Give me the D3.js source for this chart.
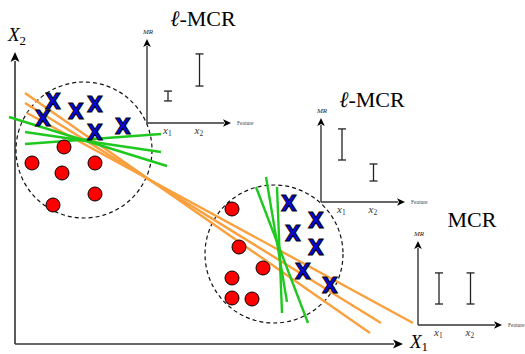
<!DOCTYPE html>
<html>
<head>
<meta charset="utf-8">
<script src="https://cdn.jsdelivr.net/npm/d3@7"></script>
<style>
  html, body { margin: 0; padding: 0; background: #fff; }
  svg { display: block; }
</style>
</head>
<body>
<svg id="chart" width="525" height="354"></svg>
<script>
// Feature space: two clusters, each with red circles (class 0) and blue crosses (class 1)
const redPoints = [
  [49, 197], [17, 181], [47, 171], [80, 181], [80, 150], [38, 139],
  [217, 135], [224, 97], [248, 76], [217, 66], [217, 46], [237, 45]
];
const bluePoints = [
  [38, 243], [28, 226], [61, 233], [80, 240], [80, 212], [108, 218],
  [274, 141], [301, 124], [278, 111], [301, 97], [288, 73], [315, 59]
];
// Neighbourhoods around each cluster: [cx, cy, r]
const neighbourhoods = [[69, 194, 68], [259, 90, 69]];
// Global good-enough models (orange) and local models (green): [x0, y0, x1, y1]
const globalModels = [
  [10, 251, 355, 11],
  [10, 241, 366, 21],
  [12, 231, 398, 21]
];
const localModels = [
  [-6, 227, 152, 178],
  [10, 212, 146, 192],
  [10, 200, 146, 210],
  [251, 167, 272, 42],
  [241, 157, 293, 21],
  [262, 157, 267, 31]
];

// Model class reliance panels: MR intervals per feature
const features = ["x1", "x2"];
const featurePos = [1, 2.5];
const panelTitles = [["ℓ", "-MCR"], ["ℓ", "-MCR"], ["", "MCR"]];
const mrLow = [[1.05, 1.76], [2.0, 1.0], [1.0, 1.0]];
const mrHigh = [[1.52, 3.29], [3.48, 1.81], [2.48, 2.48]];

const svg = d3.select("#chart");

const xs = d3.scaleLinear().domain([0, 388]).range([15, 403]);
const ys = d3.scaleLinear().domain([0, 292]).range([344, 52]);

const axisColor = "#333";

// arrowed axis helper
function arrow(g, x0, y0, x1, y1, len, half, width, color) {
  const dx = x1 - x0, dy = y1 - y0, L = Math.hypot(dx, dy);
  const ux = dx / L, uy = dy / L;
  const bx = x1 - ux * len, by = y1 - uy * len;
  g.append("line")
    .attr("x1", x0).attr("y1", y0).attr("x2", bx + ux).attr("y2", by + uy)
    .attr("stroke", color).attr("stroke-width", width);
  g.append("path")
    .attr("d", `M${x1},${y1}L${bx - uy * half},${by + ux * half}L${bx + ux * len * 0.25},${by + uy * len * 0.25}L${bx + uy * half},${by - ux * half}Z`)
    .attr("fill", "#000");
}

// main axes
const main = svg.append("g");
arrow(main, xs(0), ys(0), xs(388), ys(0), 10, 4.5, 1.6, axisColor);
arrow(main, xs(0), ys(0), xs(0), ys(292), 10, 4.5, 1.6, axisColor);

const labelFont = "'Liberation Serif', 'DejaVu Serif', serif";
function subLabel(g, x, y, base, sub, size, drop) {
  const t = g.append("text").attr("x", x).attr("y", y)
    .attr("font-family", labelFont).attr("font-style", "italic")
    .attr("font-size", size).attr("fill", "#000");
  t.append("tspan").text(base);
  t.append("tspan").attr("font-size", size * 0.68)
    .attr("dy", drop === undefined ? size * 0.22 : drop)
    .attr("font-style", "normal").text(sub);
  return t;
}
subLabel(main, 8, 41, "X", "2", 19);
subLabel(main, 410, 348, "X", "1", 19, 3);

// neighbourhoods
svg.append("g").selectAll("circle").data(neighbourhoods).join("circle")
  .attr("cx", d => xs(d[0])).attr("cy", d => ys(d[1]))
  .attr("r", d => xs(d[2]) - xs(0))
  .attr("fill", "none").attr("stroke", "#111")
  .attr("stroke-width", 1.2).attr("stroke-dasharray", "4,3");

// models
svg.append("g").selectAll("line").data(globalModels).join("line")
  .attr("x1", d => xs(d[0])).attr("y1", d => ys(d[1]))
  .attr("x2", d => xs(d[2])).attr("y2", d => ys(d[3]))
  .attr("stroke", "#f9a03f").attr("stroke-width", 2.4);
svg.append("g").selectAll("line").data(localModels).join("line")
  .attr("x1", d => xs(d[0])).attr("y1", d => ys(d[1]))
  .attr("x2", d => xs(d[2])).attr("y2", d => ys(d[3]))
  .attr("stroke", "#1fc81f").attr("stroke-width", 2.4);

// data points
svg.append("g").selectAll("circle").data(redPoints).join("circle")
  .attr("cx", d => xs(d[0])).attr("cy", d => ys(d[1])).attr("r", 7)
  .attr("fill", "#ff0000").attr("stroke", "#000").attr("stroke-width", 1);
svg.append("g").selectAll("text").data(bluePoints).join("text")
  .attr("x", d => xs(d[0])).attr("y", d => ys(d[1]) + 7.5)
  .attr("text-anchor", "middle")
  .attr("font-family", "'DejaVu Sans', sans-serif").attr("font-weight", "bold")
  .attr("font-size", 20.5)
  .attr("fill", "#0808dc").attr("stroke", "#000").attr("stroke-width", 1)
  .text("X");

// MCR panels
const panelOrigins = [[147, 123], [321, 202], [418, 325]];
const titlePos = [[203, 26], [372, 107], [472, 227]];
const px = d3.scaleLinear().domain([0, 4]).range([0, 84]);
const py = d3.scaleLinear().domain([0, 4]).range([0, -84]);

panelOrigins.forEach((o, i) => {
  const g = svg.append("g").attr("transform", `translate(${o[0]},${o[1]})`);
  arrow(g, 0, 0, px(4), 0, 8, 3.8, 1.4, axisColor);
  arrow(g, 0, 0, 0, py(4), 8, 3.8, 1.4, axisColor);

  g.append("text").attr("x", px(4) + 6).attr("y", 2)
    .attr("font-family", labelFont).attr("font-size", 5.5).attr("fill", "#444")
    .text("Feature");
  g.append("text").attr("x", 1).attr("y", py(4) - 5).attr("text-anchor", "middle")
    .attr("font-family", labelFont).attr("font-style", "italic")
    .attr("font-size", 7).attr("fill", "#222").text("MR");

  features.forEach((f, j) => {
    const cx = px(featurePos[j]);
    subLabel(g, cx - 5, 11, "x", f.slice(1), 11).attr("fill", "#333");
    const y0 = py(mrLow[i][j]), y1 = py(mrHigh[i][j]);
    const bar = g.append("g").attr("stroke", "#222").attr("stroke-width", 1.3);
    bar.append("line").attr("x1", cx).attr("x2", cx).attr("y1", y0).attr("y2", y1);
    bar.append("line").attr("x1", cx - 4).attr("x2", cx + 4).attr("y1", y0).attr("y2", y0);
    bar.append("line").attr("x1", cx - 4).attr("x2", cx + 4).attr("y1", y1).attr("y2", y1);
  });

  const title = svg.append("text").attr("x", titlePos[i][0]).attr("y", titlePos[i][1])
    .attr("text-anchor", "middle")
    .attr("font-family", labelFont).attr("font-size", 22).attr("fill", "#000");
  if (panelTitles[i][0]) title.append("tspan").attr("font-style", "italic").text(panelTitles[i][0]);
  title.append("tspan").text(panelTitles[i][1]);
});
</script>
</body>
</html>
